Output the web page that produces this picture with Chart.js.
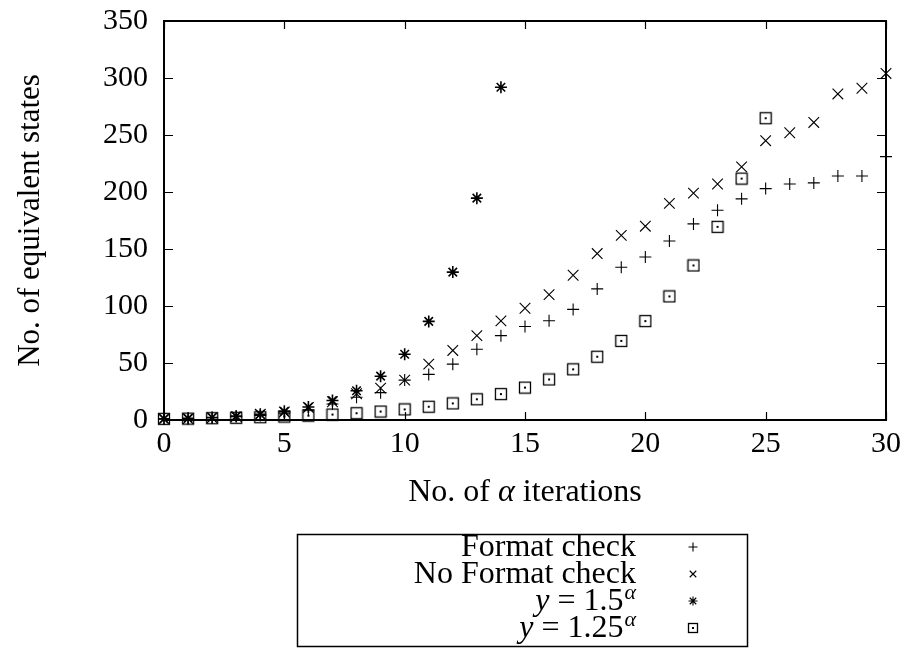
<!DOCTYPE html>
<html>
<head>
<meta charset="utf-8">
<script src="https://cdn.jsdelivr.net/npm/chart.js@4.4.1/dist/chart.umd.min.js"></script>
<style>
  html, body { margin: 0; padding: 0; background: #fff; }
  #wrap { width: 903px; height: 652px; }
</style>
</head>
<body>
<div id="wrap"><canvas id="myChart" width="903" height="652"></canvas></div>
<script>
// datos
const iteraciones = [0, 1, 2, 3, 4, 5, 6, 7, 8, 9, 10, 11, 12, 13, 14, 15, 16, 17, 18, 19, 20, 21, 22, 23, 24, 25, 26, 27, 28, 29, 30];
const formatCheck = [1, 1, 2, 3, 4, 6, 9, 14, 20, 24, 35, 40, 49, 62, 74, 82, 87, 97, 115, 134, 143, 157, 172, 184, 194, 203, 207, 208, 214, 214, 231];
const noFormatCheck = [1, 1, 2, 3, 5, 7, 11, 16, 23, 28, 35, 49, 61, 74, 87, 98, 110, 127, 146, 162, 170, 190, 199, 207, 222, 245, 252, 261, 286, 291, 304];
const pow15 = [1, 1.5, 2.25, 3.38, 5.06, 7.59, 11.39, 17.09, 25.63, 38.44, 57.67, 86.5, 129.75, 194.62, 291.93];
const pow125 = [1, 1.25, 1.56, 1.95, 2.44, 3.05, 3.81, 4.77, 5.96, 7.45, 9.31, 11.64, 14.55, 18.19, 22.74, 28.42, 35.53, 44.41, 55.51, 69.39, 86.74, 108.42, 135.53, 169.41, 211.76, 264.7];
const xTicks = [0, 5, 10, 15, 20, 25, 30];
const yTicks = [0, 50, 100, 150, 200, 250, 300, 350];

const SERIF = "'Liberation Serif', 'DejaVu Serif', serif";

function puntos(valores) {
  return valores.map((v, i) => ({ x: iteraciones[i], y: v }));
}

// cuadrado con punto al centro
function cuadradoPunto(size) {
  const c = document.createElement('canvas');
  c.width = size; c.height = size;
  const g = c.getContext('2d');
  g.strokeStyle = '#000';
  g.lineWidth = 1.3;
  g.strokeRect(1.5, 1.5, size - 3, size - 3);
  g.fillStyle = '#000';
  g.fillRect(size / 2 - 1, size / 2 - 1, 2, 2);
  return c;
}

const marcaCuadro = cuadradoPunto(14);
const marcaCuadroChica = cuadradoPunto(12);

function drawMarker(ctx, style, x, y, r) {
  ctx.save();
  ctx.strokeStyle = '#000';
  ctx.lineWidth = 1.1;
  ctx.beginPath();
  if (style === 'cross' || style === 'star') {
    ctx.moveTo(x - r, y); ctx.lineTo(x + r, y);
    ctx.moveTo(x, y - r); ctx.lineTo(x, y + r);
  }
  if (style === 'crossRot' || style === 'star') {
    const d = r * 0.72;
    ctx.moveTo(x - d, y - d); ctx.lineTo(x + d, y + d);
    ctx.moveTo(x - d, y + d); ctx.lineTo(x + d, y - d);
  }
  ctx.stroke();
  if (style === 'box') {
    ctx.drawImage(marcaCuadroChica, x - 6, y - 6);
  }
  ctx.restore();
}

const marcos = {
  id: 'marcos',
  afterDraw(chart) {
    const ctx = chart.ctx;
    const a = chart.chartArea;
    const xs = chart.scales.x;
    const ys = chart.scales.y;
    ctx.save();
    ctx.strokeStyle = '#000';
    ctx.lineWidth = 2;
    ctx.strokeRect(a.left, a.top, a.right - a.left, a.bottom - a.top);
    ctx.lineWidth = 1.2;
    ctx.beginPath();
    xTicks.forEach(t => {
      const px = Math.round(xs.getPixelForValue(t)) + 0.5;
      ctx.moveTo(px, a.bottom); ctx.lineTo(px, a.bottom - 8);
      ctx.moveTo(px, a.top); ctx.lineTo(px, a.top + 8);
    });
    yTicks.forEach(t => {
      const py = Math.round(ys.getPixelForValue(t)) + 0.5;
      ctx.moveTo(a.left, py); ctx.lineTo(a.left + 9, py);
      ctx.moveTo(a.right, py); ctx.lineTo(a.right - 9, py);
    });
    ctx.stroke();

    // titulo eje x con alfa en cursiva
    ctx.fillStyle = '#000';
    ctx.textBaseline = 'middle';
    const partes = [
      { t: 'No. of ', f: '32px ' + SERIF },
      { t: 'α', f: 'italic 32px ' + SERIF },
      { t: ' iterations', f: '32px ' + SERIF }
    ];
    let total = 0;
    partes.forEach(p => { ctx.font = p.f; p.w = ctx.measureText(p.t).width; total += p.w; });
    let cx = (a.left + a.right) / 2 - total / 2;
    ctx.textAlign = 'left';
    partes.forEach(p => { ctx.font = p.f; ctx.fillText(p.t, cx, 493); cx += p.w; });

    // leyenda
    ctx.lineWidth = 1.5;
    ctx.strokeRect(297.5, 534.5, 450, 112);
    const filas = [547, 574, 601, 628];
    chart.data.datasets.forEach((ds, i) => {
      const y = filas[i];
      const derecha = 636;
      ctx.textAlign = 'right';
      if (ds.formula) {
        ctx.font = 'italic 22px ' + SERIF;
        ctx.fillText('α', derecha, y - 8);
        const wa = ctx.measureText('α').width;
        ctx.font = '32px ' + SERIF;
        ctx.fillText(' = ' + ds.formula, derecha - wa - 1, y + 1);
        const wb = ctx.measureText(' = ' + ds.formula).width;
        ctx.font = 'italic 32px ' + SERIF;
        ctx.fillText('y', derecha - wa - 1 - wb, y + 1);
      } else {
        ctx.font = '32px ' + SERIF;
        ctx.fillText(ds.label, derecha, y + 1);
      }
      drawMarker(ctx, ds.legendStyle, 693, y, 4.5);
    });
    ctx.restore();
  }
};

const ctx = document.getElementById('myChart').getContext('2d');
const chart = new Chart(ctx, {
  type: 'scatter',
  data: {
    datasets: [
      {
        label: 'Format check',
        legendStyle: 'cross',
        data: puntos(formatCheck),
        pointStyle: 'cross',
        pointRadius: 6,
        borderColor: '#000',
        borderWidth: 1.1,
        clip: false
      },
      {
        label: 'No Format check',
        legendStyle: 'crossRot',
        data: puntos(noFormatCheck),
        pointStyle: 'crossRot',
        pointRadius: 7.5,
        borderColor: '#000',
        borderWidth: 1.1,
        clip: false
      },
      {
        label: 'y = 1.5^α',
        formula: '1.5',
        legendStyle: 'star',
        data: puntos(pow15),
        pointStyle: 'star',
        pointRadius: 6,
        borderColor: '#000',
        borderWidth: 1.6,
        clip: false
      },
      {
        label: 'y = 1.25^α',
        formula: '1.25',
        legendStyle: 'box',
        data: puntos(pow125),
        pointStyle: marcaCuadro,
        pointRadius: 7,
        borderColor: '#000',
        clip: false
      }
    ]
  },
  options: {
    responsive: false,
    animation: false,
    events: [],
    layout: { padding: { left: 0, right: 17, top: 21, bottom: 0 } },
    plugins: {
      legend: { display: false },
      tooltip: { enabled: false }
    },
    scales: {
      x: {
        type: 'linear',
        min: 0,
        max: 30,
        afterBuildTicks: s => { s.ticks = xTicks.map(v => ({ value: v })); },
        afterFit: s => { s.height = 232; s.paddingLeft = 0; s.paddingRight = 0; },
        grid: { display: false, drawTicks: false },
        border: { display: false },
        ticks: { color: '#000', padding: 6, maxRotation: 0, font: { family: SERIF, size: 30 } }
      },
      y: {
        min: 0,
        max: 350,
        afterBuildTicks: s => { s.ticks = yTicks.map(v => ({ value: v })); },
        afterFit: s => { s.width = 164; s.paddingTop = 0; s.paddingBottom = 0; },
        grid: { display: false, drawTicks: false },
        border: { display: false },
        ticks: { color: '#000', padding: 16, font: { family: SERIF, size: 30 } },
        title: {
          display: true,
          text: 'No. of equivalent states',
          color: '#000',
          padding: { top: 12, bottom: 0 },
          font: { family: SERIF, size: 31 }
        }
      }
    }
  },
  plugins: [marcos]
});
</script>
</body>
</html>
